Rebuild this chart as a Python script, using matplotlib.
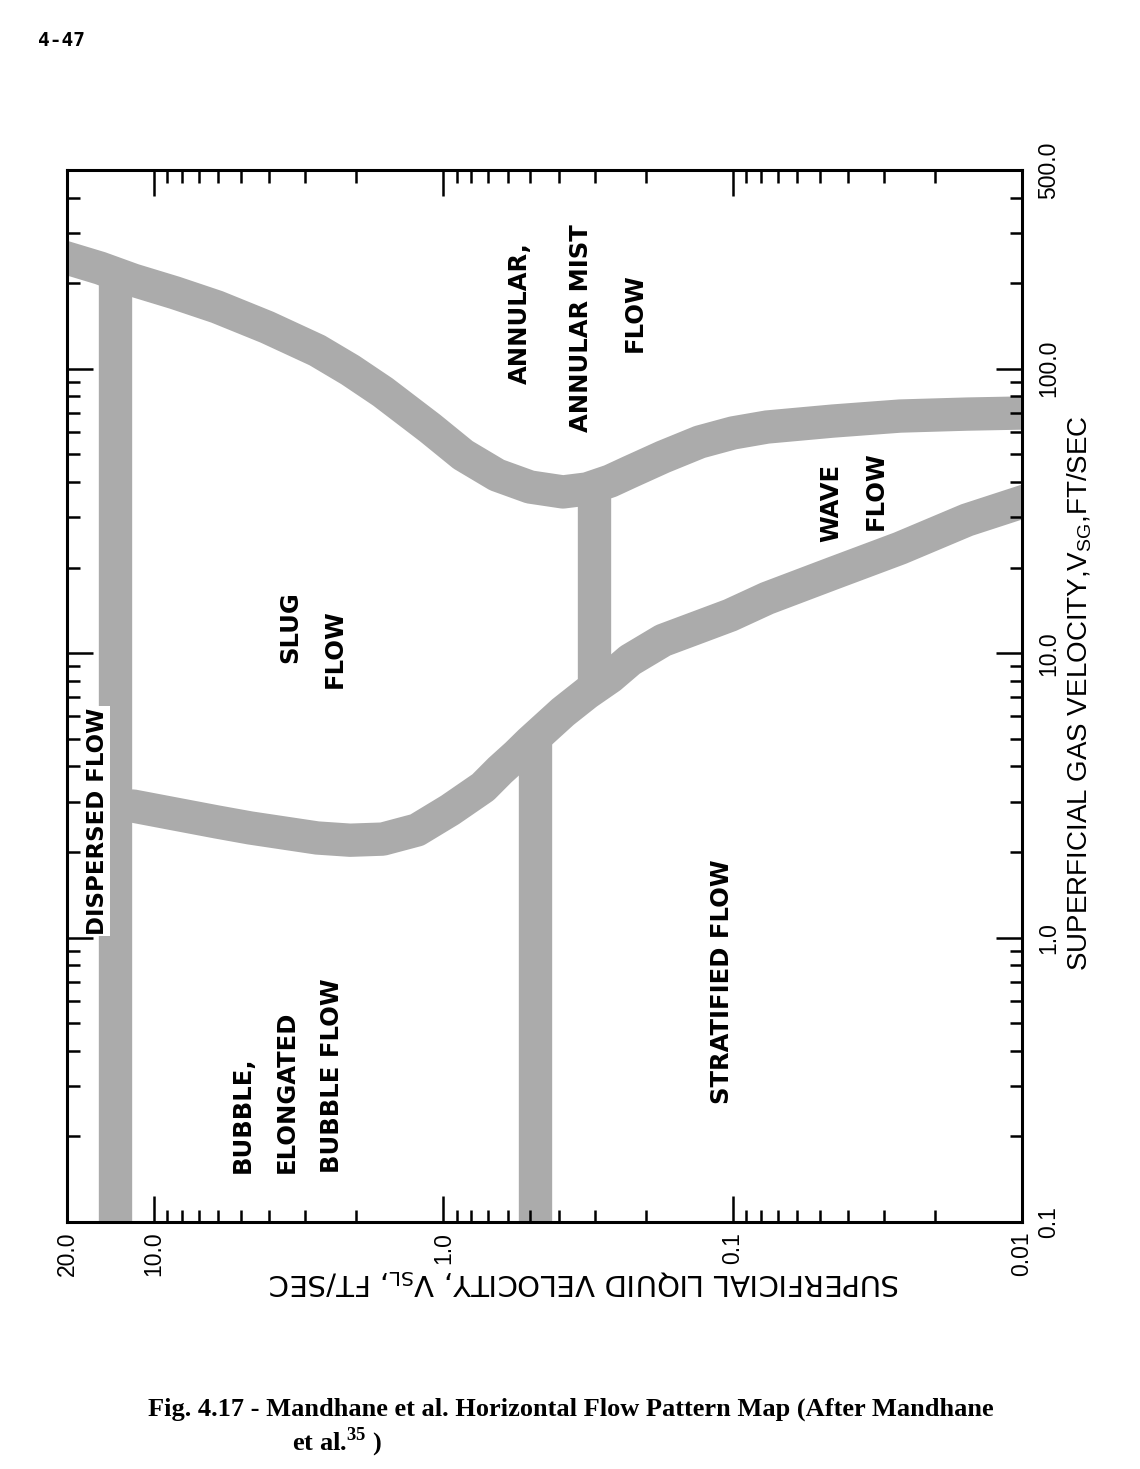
"""
Mandhane et al. horizontal flow pattern map (Fig. 4.17), drawn rotated
like the printed page: liquid velocity runs along the bottom, gas velocity
up the right side. Saves out.png.
"""
import numpy as np
import matplotlib
matplotlib.use("Agg")
import matplotlib.pyplot as plt
from matplotlib import ticker

# Boundary bands, superficial velocities in ft/sec
# (V_SL along the horizontal axis, V_SG along the vertical axis)
annular_vsl = [20.0, 15.38, 11.8, 8.47, 6.06, 4.07, 2.73, 2.10, 1.62, 1.112,
               0.855, 0.653, 0.502, 0.386, 0.319, 0.265, 0.2264, 0.174, 0.130,
               0.0997, 0.0761, 0.0450, 0.0264, 0.0155, 0.0100]
annular_vsg = [245, 226, 205, 185, 165, 140, 116, 99.0, 82.9, 61.9,
               49.8, 42.3, 38.4, 36.9, 37.8, 40.3, 43.4, 49.0, 55.3,
               59.5, 62.4, 65.5, 68.2, 69.3, 69.9]

stratified_vsl = [0.0100, 0.0155, 0.0264, 0.0450, 0.0761, 0.102, 0.130, 0.174,
                  0.2264, 0.265, 0.319, 0.386, 0.502, 0.557, 0.637, 0.729,
                  0.949, 1.234, 1.62, 2.10, 2.73, 4.66, 6.06, 8.47, 11.8, 13.6]
stratified_vsg = [34.0, 29.4, 23.4, 19.1, 15.6, 13.6, 12.4, 11.1,
                  9.46, 8.25, 7.24, 6.21, 4.87, 4.39, 3.88, 3.38,
                  2.81, 2.39, 2.22, 2.20, 2.24, 2.43, 2.55, 2.72, 2.90, 2.90]

dispersed_vsl = [13.6, 13.6]
dispersed_vsg = [0.1, 215]

wave_slug_vsl = [0.302, 0.302]
wave_slug_vsg = [7.5, 38]

bubble_strat_vsl = [0.482, 0.482]
bubble_strat_vsg = [0.1, 5.1]

# Axis ticks
x_ticks = [20.0, 10.0, 1.0, 0.1, 0.01]
x_tick_labels = ["20.0", "10.0", "1.0", "0.1", "0.01"]
y_ticks = [0.1, 1.0, 10.0, 100.0, 500.0]
y_tick_labels = ["0.1", "1.0", "10.0", "100.0", "500.0"]

# Region names and where they sit on the map (V_SL, V_SG)
region_text = ["ANNULAR,", "ANNULAR MIST", "FLOW", "WAVE", "FLOW",
               "SLUG", "FLOW", "STRATIFIED FLOW"]
region_vsl = [0.543, 0.334, 0.2176, 0.0457, 0.0320, 3.39, 2.37, 0.1089]
region_vsg = [157, 139, 157, 33.7, 37.2, 12.3, 10.4, 0.698]

bubble_text = ["BUBBLE,", "ELONGATED", "BUBBLE FLOW"]
bubble_vsl = [4.93, 3.47, 2.43]
bubble_vsg_start = 0.149

plt.rcParams['font.family'] = ['Liberation Sans', 'DejaVu Sans']
plt.rcParams['mathtext.fontset'] = 'custom'
plt.rcParams['mathtext.rm'] = 'Liberation Sans'

band_color = '#ababab'
band_width = 24

fig = plt.figure(figsize=(11.4, 14.69), dpi=100)
ax = fig.add_axes([67 / 1140, 1 - 1222 / 1469, 955 / 1140, 1052 / 1469])
ax.set_xscale('log')
ax.set_yscale('log')
ax.set_xlim(20, 0.01)
ax.set_ylim(0.1, 500)

# curved boundaries run off the frame, so square caps get clipped there
for xs, ys in [(annular_vsl, annular_vsg), (stratified_vsl, stratified_vsg)]:
    ax.plot(xs, ys, color=band_color, linewidth=band_width,
            solid_capstyle='projecting', solid_joinstyle='round', zorder=1)
# straight boundaries stop inside other bands
for xs, ys in [(dispersed_vsl, dispersed_vsg), (wave_slug_vsl, wave_slug_vsg),
               (bubble_strat_vsl, bubble_strat_vsg)]:
    ax.plot(xs, ys, color=band_color, linewidth=band_width,
            solid_capstyle='butt', zorder=1)

# region labels
label_kw = dict(family='DejaVu Sans', weight='bold', fontsize=17.5,
                rotation=90, ha='center', va='center', zorder=3)
for txt, x, y in zip(region_text, region_vsl, region_vsg):
    ax.text(x, y, txt, **label_kw)
for txt, x in zip(bubble_text, bubble_vsl):
    ax.text(x, bubble_vsg_start, txt, family='DejaVu Sans', weight='bold',
            fontsize=17.5, rotation=90, ha='center', va='bottom', zorder=3)
ax.text(15.75, 2.57, "DISPERSED FLOW", family='DejaVu Sans', weight='bold',
        fontsize=16.5, rotation=90, ha='center', va='center', zorder=3,
        bbox=dict(facecolor='white', edgecolor='none', pad=1.0))

# ticks
ax.set_xticks(x_ticks, labels=x_tick_labels)
ax.set_yticks(y_ticks, labels=y_tick_labels)
ax.xaxis.set_minor_locator(ticker.LogLocator(base=10, subs=np.arange(2, 10), numticks=30))
ax.yaxis.set_minor_locator(ticker.LogLocator(base=10, subs=np.arange(2, 10), numticks=30))
ax.xaxis.set_minor_formatter(ticker.NullFormatter())
ax.yaxis.set_minor_formatter(ticker.NullFormatter())

ax.tick_params(which='both', direction='in', top=True, right=True, left=True,
               bottom=True, labelleft=False, labelright=True, labelbottom=True,
               labeltop=False, width=1.8, color='black')
ax.tick_params(which='major', length=19)
ax.tick_params(which='minor', length=9)
ax.tick_params(axis='x', which='major', labelsize=16.5, pad=7, labelrotation=90)
ax.tick_params(axis='y', which='major', labelsize=16.5, pad=11, labelrotation=90)
for lbl in ax.get_yticklabels():
    lbl.set_va('center')

for sp in ax.spines.values():
    sp.set_linewidth(2.2)

# axis titles (bottom one is printed upside down on the page)
ax.text(0.5424, -0.057, r"SUPERFICIAL LIQUID VELOCITY, V$_\mathregular{SL}$, FT/SEC",
        transform=ax.transAxes, family='DejaVu Sans', fontsize=21,
        rotation=180, ha='center', va='center')
ax.text(1.0607, 0.503, r"SUPERFICIAL GAS VELOCITY,V$_\mathregular{SG}$,FT/SEC",
        transform=ax.transAxes, fontsize=20, rotation=90, ha='center', va='center')

# page number and caption
fig.text(38 / 1140, 1 - 41 / 1469, "4-47", family='DejaVu Sans Mono',
         weight='bold', fontsize=14, ha='left', va='center')
fig.text(148 / 1140, 1 - 1409 / 1469,
         "Fig. 4.17 - Mandhane et al. Horizontal Flow Pattern Map (After Mandhane",
         family='Liberation Serif', weight='bold', fontsize=19, ha='left', va='center')
fig.text(292 / 1140, 1 - 1442 / 1469, r"et al.$^\mathregular{35}$ )",
         family='Liberation Serif', weight='bold', fontsize=19, ha='left', va='center')

fig.savefig('out.png', dpi=100)
plt.close(fig)
